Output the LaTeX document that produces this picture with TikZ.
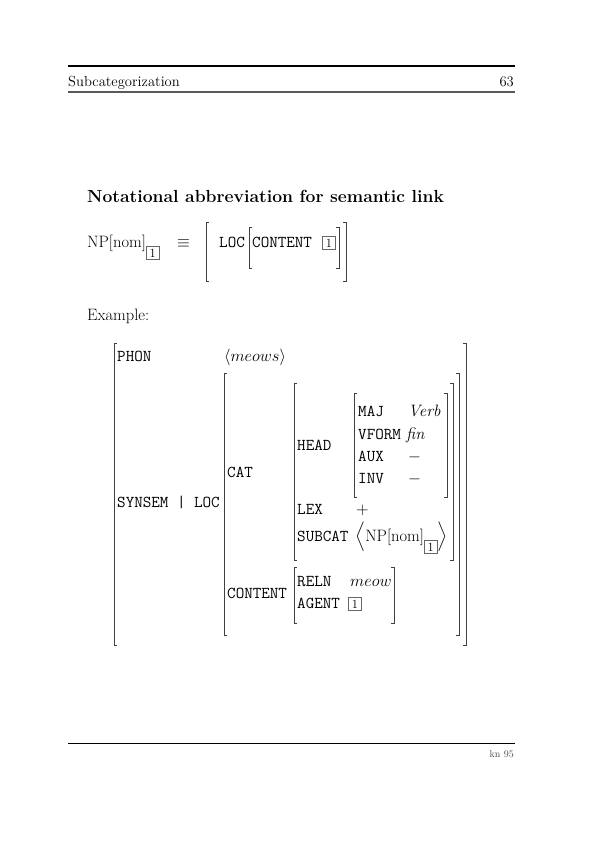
\RequirePackage{fix-cm}
\documentclass[tikz,border=0pt]{standalone}
\usepackage{amsmath,amssymb}
\usepackage{tikz}
\usetikzlibrary{calc}
\newcommand{\tagbox}[1]{{\setlength{\fboxsep}{2.4pt}\setlength{\fboxrule}{0.5pt}%
  \fcolorbox{black!60}{white}{\fontsize{12.5}{12.5}\selectfont\makebox[7.5pt]{#1}}}}
\newcommand{\npnom}{NP[nom]\raisebox{-10pt}{\tagbox{1}}}

\begin{document}
\begin{tikzpicture}[x=1pt,y=-1pt,
    txt/.style={anchor=base west,inner sep=0pt,font=\fontsize{16.5}{19}\selectfont},
    feat/.style={txt,font=\fontsize{16.6}{19}\selectfont\ttfamily},
    brk/.style={line width=.8pt,black!75}]
  \useasboundingbox (0,0) rectangle (595,842);
  % running head and foot
  \draw[line width=1.2pt] (68,66) -- (515,66);
  \node[txt,font=\fontsize{14.6}{17}\selectfont] (head) at (68,87) {Subcategorization};
  \node[txt,anchor=base east,font=\fontsize{14.6}{17}\selectfont] (page) at (514,87) {63};
  \draw[black!65,line width=2pt] (68,92.5) -- (515,92.5);
  \draw[line width=1pt] (68,743) -- (515,743);
  \node[txt,anchor=base east,font=\fontsize{10}{12}\selectfont,black!70] (foot) at (514,757) {kn 95};
  % abbreviation
  \node[txt,font=\fontsize{17.5}{20}\selectfont\bfseries] (title) at (87,203) {Notational abbreviation for semantic link};
  \node[txt] (np) at (87,247) {\npnom};
  \node[txt] (equiv) at (177,247) {$\equiv$};
  \node[feat] (loc) at (219,247) {LOC};
  \node[feat] (cont) at (252,247) {CONTENT};
  \node[txt] (tag) at (322,247) {\tagbox{1}};
  \node[txt] (ex) at (87,320) {Example:};
  % the AVM
  \node[feat] (phon) at (117,361) {PHON};
  \node[txt] (phonv) at (224,361) {$\langle meows\rangle$};
  \node[feat] (synloc) at (117,507) {SYNSEM | LOC};
  \node[feat] (cat) at (227,477) {CAT};
  \node[feat] (hd) at (297,450) {HEAD};
  \node[feat] (maj) at (358,416) {MAJ};     \node[txt] (majv) at (408,416) {\itshape Verb};
  \node[feat] (vform) at (358,439) {VFORM}; \node[txt] (vformv) at (406,439) {\itshape fin};
  \node[feat] (aux) at (358,461) {AUX};     \node[txt] (auxv) at (408,461) {$-$};
  \node[feat] (inv) at (358,483) {INV};     \node[txt] (invv) at (408,483) {$-$};
  \node[feat] (lex) at (297,514) {LEX};     \node[txt] (lexv) at (356,514) {$+$};
  \node[feat] (subcat) at (297,541) {SUBCAT};
  \node[txt] (subcatv) at (355,541) {$\Big\langle$\npnom$\Big\rangle$};
  \node[feat] (content) at (227,598) {CONTENT};
  \node[feat] (reln) at (297,586) {RELN};   \node[txt] (relnv) at (350,586) {$meow$};
  \node[feat] (agent) at (297,608) {AGENT}; \node[txt] (agentv) at (348,608) {\tagbox{1}};
  % brackets: left/right/top/bottom
  \foreach \l/\r/\t/\b in {206/346/222/281,249/339/227/268,114/466/343/645,
      224/459/373/635,294/453/383/560,354/447/393/497,294/394/567/623}
    \draw[brk] (\l+3,\t) -| (\l,\b) -- ++(3,0) (\r-3,\t) -| (\r,\b) -- ++(-3,0);
\end{tikzpicture}
\end{document}
